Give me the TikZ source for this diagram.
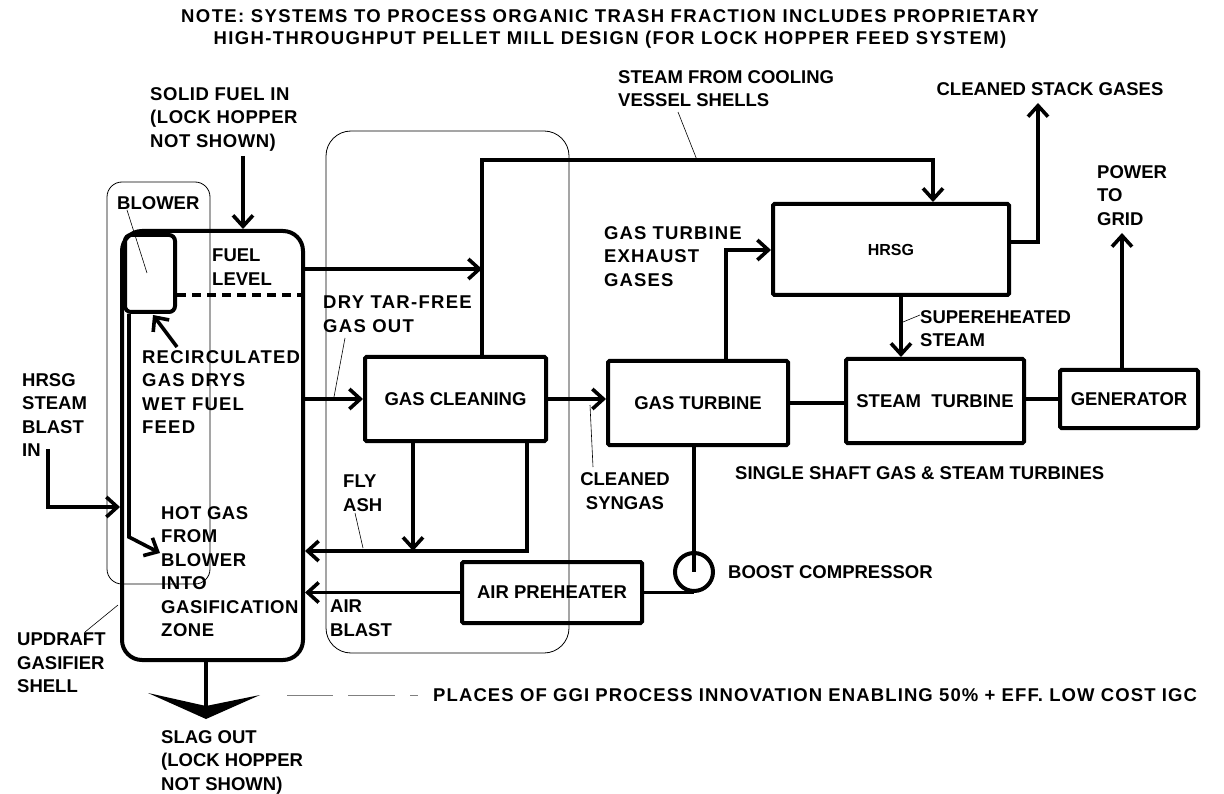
\documentclass[tikz,border=0pt]{standalone}
\usepackage{fontspec}
\setmainfont{Liberation Sans}
\usetikzlibrary{arrows.meta,calc}

\newcommand{\lblfont}{\fontsize{18.5}{23.5}\selectfont\bfseries}

\begin{document}
\begin{tikzpicture}[x=1pt,y=-1pt,
  every node/.style={font=\lblfont},
  lbl/.style={align=left, inner sep=0pt, anchor=north west},
  spaced/.style={font=\lblfont\addfontfeature{LetterSpace=#1}},
  unit/.style={draw, line width=4pt, rounded corners=1.5pt, inner sep=0pt},
  pipe/.style={line width=3.6pt},
  flow/.style={pipe, -{Straight Barb[length=11pt,width=20pt]}},
  leader/.style={line width=0.6pt},
  zone/.style={line width=0.8pt},
]
\useasboundingbox (0,0) rectangle (1224,794);

%% Note at the top
\node[align=center, spaced=7.5] (note) at (610,29)
  {NOTE: SYSTEMS TO PROCESS ORGANIC TRASH FRACTION INCLUDES PROPRIETARY\\[-1.5pt]
   HIGH-THROUGHPUT PELLET MILL DESIGN (FOR LOCK HOPPER FEED SYSTEM)};

%% Places of innovation (thin rounded outlines)
\draw[zone, rounded corners=15pt] (107,182) rectangle (210,584);
\draw[zone, rounded corners=25pt] (326,131) rectangle (569,653);

%% Gasifier and blower
\node[unit, rounded corners=20pt, minimum width=181pt, minimum height=429pt]
  (gasifier) at (212.5,445.5) {};
\node[unit, rounded corners=6pt, minimum width=50pt, minimum height=77pt]
  (blower) at (150,273.5) {};

%% Process units
\node[unit, minimum width=181pt, minimum height=84pt] (cleaning) at (455.5,399) {GAS CLEANING};
\node[unit, minimum width=180pt, minimum height=84pt] (turbine) at (698,403) {GAS TURBINE};
\node[unit, minimum width=236pt, minimum height=91pt, font=\fontsize{16}{20}\selectfont\bfseries]
  (hrsg) at (891,249.5) {HRSG};
\node[unit, minimum width=178pt, minimum height=84pt] (steamtb) at (935,401) {STEAM\ \ TURBINE};
\node[unit, minimum width=138pt, minimum height=58pt] (generator) at (1129,399) {GENERATOR\hspace{9pt}};
\node[unit, minimum width=180pt, minimum height=61pt] (preheater) at (552,592.5) {AIR PREHEATER};
\node[draw, circle, line width=4pt, minimum size=38pt, inner sep=0pt] (compressor) at (694,572) {};

%% Labels
\node[lbl, spaced=3] (fuelin) at (150,87) {SOLID FUEL IN\\(LOCK HOPPER\\NOT SHOWN)};
\node[lbl] (blowerlbl) at (117,196) {BLOWER};
\node[lbl] (fuellevel) at (212,249) {FUEL\\LEVEL};
\node[lbl, spaced=6.5] (recirc) at (142,350) {RECIRCULATED\\GAS DRYS\\WET FUEL\\FEED};
\node[lbl] (blastin) at (22,373) {HRSG\\STEAM\\BLAST\\IN};
\node[lbl, spaced=3] (hotgas) at (161,506) {HOT GAS\\FROM\\BLOWER\\INTO\\GASIFICATION\\ZONE};
\node[lbl] (shell) at (17,633) {UPDRAFT\\GASIFIER\\SHELL};
\node[lbl] (slaglbl) at (161,730) {SLAG OUT\\(LOCK HOPPER\\NOT SHOWN)};
\node[lbl, spaced=7] (tarfree) at (323,296) {DRY TAR-FREE\\GAS OUT};
\node[lbl] (flyash) at (343,475) {FLY\\ASH};
\node[lbl] (airblast) at (330,600) {AIR\\BLAST};
\node[align=center, inner sep=0pt] (syngas) at (625,491) {CLEANED\\SYNGAS};
\node[lbl] (cooling) at (618,70) {STEAM FROM COOLING\\VESSEL SHELLS};
\node[lbl, spaced=6] (exhaust) at (604,226) {GAS TURBINE\\EXHAUST\\GASES};
\node[inner sep=0pt] (stack) at (1050,89) {CLEANED STACK GASES};
\node[lbl] (power) at (1097,165) {POWER\\TO\\GRID};
\node[lbl] (superheat) at (920,310) {SUPEREHEATED\\STEAM};
\node[lbl] (shaft) at (735,466) {SINGLE SHAFT GAS \& STEAM TURBINES};
\node[lbl] (boost) at (728,565) {BOOST COMPRESSOR};
\node[lbl, spaced=6] (legend) at (433,688) {PLACES OF GGI PROCESS INNOVATION ENABLING 50\% + EFF. LOW COST IGC};

%% Bend and join points
\coordinate (gastop) at (482,269);
\coordinate (steamup) at (482,160);
\coordinate (steamin) at (933,160);
\coordinate (exh) at (726,250);
\coordinate (stackup) at (1038,103);
\coordinate (ashjoin) at (413,551);
\coordinate (ashret) at (527,551);
\coordinate (slag) at (206,707);

%% Gas side
\draw[flow] (gasifier.east |- gastop) -- (gastop);
\draw[flow] (cleaning.north -| steamup) -- (steamup) -| (hrsg.north -| steamin);
\draw[flow] (gasifier.east |- cleaning.west) -- (cleaning.west);
\draw[flow] (cleaning.east) -- (turbine.west |- cleaning.east);
\draw[flow] (turbine.north -| exh) |- (hrsg.west |- exh);
\draw[flow] (hrsg.east |- 0,242) -| (stackup);

%% Steam and shaft
\draw[flow] (hrsg.south -| 901,0) -- (steamtb.north -| 901,0);
\draw[pipe] (turbine.east) -- (steamtb.west |- turbine.east);
\draw[pipe] (steamtb.east |- generator.west) -- (generator.west);
\draw[flow] (generator.north -| 1122,0) -- (1122,233);

%% Fly ash return
\draw[flow] (cleaning.south -| ashjoin) -- (ashjoin);
\draw[flow] (cleaning.south -| ashret) -- (ashret) -- (gasifier.east |- ashret);

%% Air blast
\draw[pipe] (turbine.south -| compressor) -- (compressor.center);
\draw[pipe] (preheater.east) -- (preheater.east -| compressor.south);
\draw[flow] (preheater.west) -- (gasifier.east |- preheater.west);

%% Feeds into the gasifier
\draw[flow] (243,156) -- (gasifier.north -| 243,0);
\draw[flow] (48,449) |- (gasifier.west |- 0,507);
\draw[pipe, dash pattern=on 9pt off 6pt] (blower.east |- 0,295) -- (gasifier.east |- 0,295);
\draw[flow] (177,347) -- (153,315);
\draw[flow] (blower.south -| 129,0) -- (129,537) -- (160,553);

%% Slag out
\draw[pipe] (gasifier.south -| slag) -- (slag);
\fill (148,693) -- (206,706) -- (260,695) -- (206,719) -- cycle;

%% Leader lines
\draw[leader] (127,210) -- (147,273);
\draw[leader] (345,338) -- (334,397);
\draw[leader] (593,467) -- (590,405);
\draw[leader] (355,513) -- (363,548);
\draw[leader] (920,315) -- (903,322);
\draw[leader] (85,632) -- (118,605);
\draw[leader] (678,112) -- (697,160);

%% Legend dashes
\draw[gray, line width=1pt, dash pattern=on 46pt off 15pt on 47pt off 15pt] (287,695) -- (418,695);

\end{tikzpicture}
\end{document}
